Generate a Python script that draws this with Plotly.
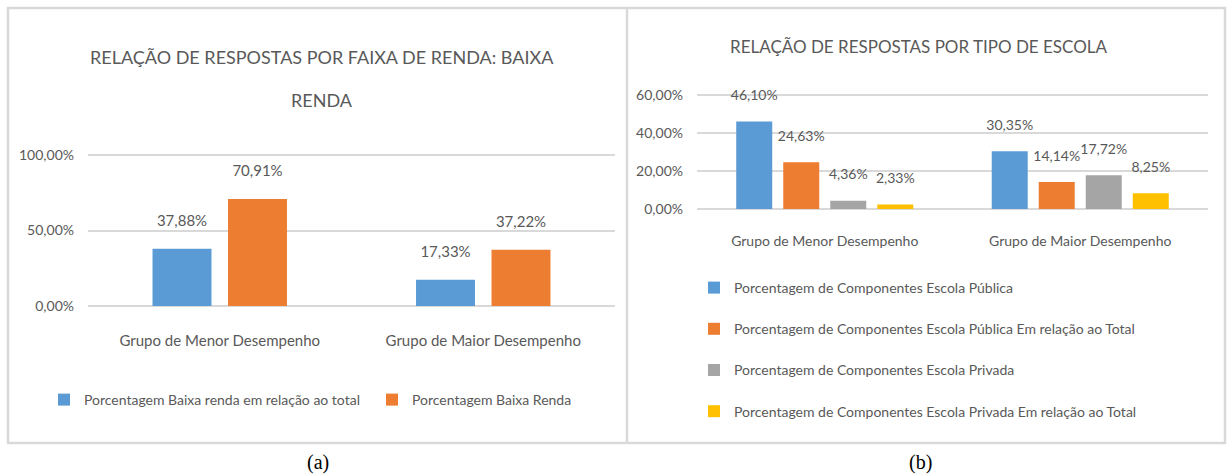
import plotly.graph_objects as go

# ---------------- data ----------------
categories = ["Grupo de Menor Desempenho", "Grupo de Maior Desempenho"]

a_title_l1 = "RELAÇÃO DE RESPOSTAS POR FAIXA DE RENDA: BAIXA"
a_title_l2 = "RENDA"
a_series_names = ["Porcentagem Baixa renda em relação ao total", "Porcentagem Baixa Renda"]
a_baixa_total = [0.3788, 0.1733]
a_baixa_renda = [0.7091, 0.3722]
a_ticks = [0.0, 0.5, 1.0]

b_title = "RELAÇÃO DE RESPOSTAS POR TIPO DE ESCOLA"
b_series_names = [
    "Porcentagem de Componentes Escola Pública",
    "Porcentagem de Componentes Escola Pública Em relação ao Total",
    "Porcentagem de Componentes Escola Privada",
    "Porcentagem de Componentes Escola Privada Em relação ao Total",
]
b_publica = [0.4610, 0.3035]
b_publica_total = [0.2463, 0.1414]
b_privada = [0.0436, 0.1772]
b_privada_total = [0.0233, 0.0825]
b_ticks = [0.0, 0.2, 0.4, 0.6]

panel_labels = ["(a)", "(b)"]

# ---------------- style ----------------
W, H = 1228, 476
FONT = "Lato, Roboto, sans-serif"
TXT = "#595959"
GRID = "#d9d9d9"
BLUE, ORANGE, GREY, YELLOW = "#5b9bd5", "#ed7d31", "#a5a5a5", "#ffc000"


def px(x):
    return x / W


def py(y):
    return 1 - y / H


fig = go.Figure()

label_tpl = "%{y:.2%}<br><span style='font-size:1px'> </span>"

# panel (a)
for name, vals, col in zip(a_series_names, [a_baixa_total, a_baixa_renda], [BLUE, ORANGE]):
    fig.add_trace(go.Bar(
        x=categories, y=vals, name=name, marker=dict(color=col, line=dict(width=0)),
        xaxis="x", yaxis="y", legend="legend",
        texttemplate=label_tpl, textposition="outside", cliponaxis=False,
        constraintext="none",
        textfont=dict(family=FONT, size=15, color=TXT), hoverinfo="skip",
    ))

# panel (b)
for i, (name, vals, col) in enumerate(zip(b_series_names,
                                          [b_publica, b_publica_total, b_privada, b_privada_total],
                                          [BLUE, ORANGE, GREY, YELLOW])):
    fig.add_trace(go.Bar(
        x=categories, y=vals, name=name, marker=dict(color=col, line=dict(width=0)),
        xaxis="x2", yaxis="y2", legend="legend2", legendgroup=f"b{i}",
        texttemplate=label_tpl, textposition="outside", cliponaxis=False,
        constraintext="none",
        textfont=dict(family=FONT, size=14, color=TXT), hoverinfo="skip",
    ))

axis_common = dict(showline=False, zeroline=False, ticks="", fixedrange=True)

fig.update_layout(
    width=W, height=H,
    margin=dict(l=0, r=0, t=0, b=0, pad=0, autoexpand=False),
    paper_bgcolor="white", plot_bgcolor="white",
    separators=",.",
    barmode="group",
    font=dict(family=FONT, color=TXT),
    xaxis=dict(domain=[px(88), px(615)], anchor="y", showgrid=False,
               tickfont=dict(family=FONT, size=15, color=TXT), ticklabelstandoff=22,
               **axis_common),
    yaxis=dict(domain=[py(307.5), py(153.5)], anchor="x", range=[-0.01, 1.01],
               tickvals=a_ticks, tickformat=".2%", gridcolor=GRID, gridwidth=1.5,
               tickfont=dict(family=FONT, size=14, color=TXT), ticklabelstandoff=13,
               **axis_common),
    xaxis2=dict(domain=[px(697), px(1208)], anchor="y2", showgrid=False,
                tickfont=dict(family=FONT, size=14, color=TXT), ticklabelstandoff=20,
                **axis_common),
    yaxis2=dict(domain=[py(210.5), py(93.5)], anchor="x2", range=[-0.008, 0.608],
                tickvals=b_ticks, tickformat=".2%", gridcolor=GRID, gridwidth=1.5,
                tickfont=dict(family=FONT, size=14, color=TXT), ticklabelstandoff=13,
                **axis_common),
    legend=dict(orientation="h", x=px(44), y=py(384), xanchor="left", yanchor="top",
                font=dict(family=FONT, size=14, color=TXT), entrywidth=283,
                bgcolor="rgba(0,0,0,0)"),
    legend2=dict(orientation="v", x=px(694), y=py(272), xanchor="left", yanchor="top",
                 font=dict(family=FONT, size=14, color=TXT), tracegroupgap=20,
                 bgcolor="rgba(0,0,0,0)"),
    bargap=0.427, bargroupgap=0.219,
    showlegend=True,
)

# Panel (b) has its own bar spacing (4 bars per group)
b_group = 1 - 0.264
b_slot = b_group / 4
b_width = b_slot * (1 - 0.234)
for k, tr in enumerate(fig.data[2:]):
    tr.update(width=b_width, offset=-b_group / 2 + k * b_slot + (b_slot - b_width) / 2)

# titles and panel labels
ann_common = dict(xref="paper", yref="paper", showarrow=False, xanchor="center",
                  yanchor="middle")
fig.add_annotation(text=a_title_l1, x=px(322), y=py(57),
                   font=dict(family=FONT, size=18, color=TXT), **ann_common)
fig.add_annotation(text=a_title_l2, x=px(322), y=py(100),
                   font=dict(family=FONT, size=18, color=TXT), **ann_common)
fig.add_annotation(text=b_title, x=px(919), y=py(47),
                   font=dict(family=FONT, size=17, color=TXT), **ann_common)
for lbl, xc in zip(panel_labels, [318, 920]):
    fig.add_annotation(text=lbl, x=px(xc), y=py(462),
                       font=dict(family="Liberation Serif, Times New Roman, serif", size=20,
                                 color="black"), **ann_common)

# panel borders
fig.add_shape(type="rect", xref="paper", yref="paper", x0=px(8), x1=px(1225), y0=py(443),
              y1=py(8), line=dict(color=GRID, width=2.5), layer="below")
fig.add_shape(type="line", xref="paper", yref="paper", x0=px(627), x1=px(627), y0=py(443),
              y1=py(8), line=dict(color=GRID, width=2.5), layer="below")

fig.write_html(
    "out.html",
    config={"displayModeBar": False},
    post_script="document.body.style.margin='0';document.body.style.padding='0';"
                "document.body.style.overflow='hidden';",
)
